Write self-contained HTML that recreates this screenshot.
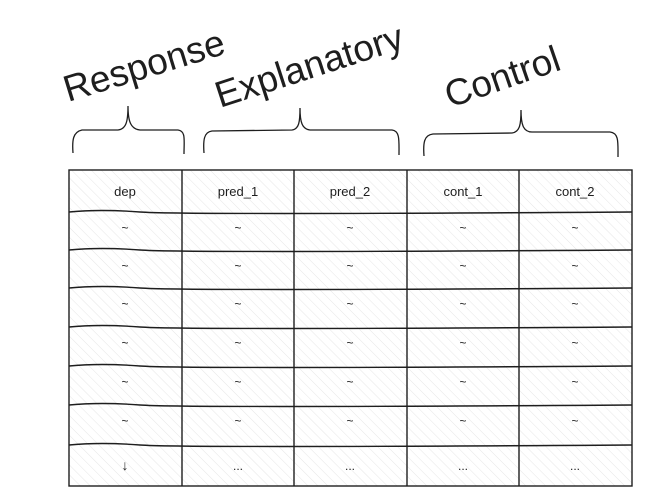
<!DOCTYPE html>
<html><head><style>
html,body{margin:0;padding:0;background:#fff;width:668px;height:487px;overflow:hidden}
text{font-family:"Liberation Sans",sans-serif;fill:#1e1e1e}
</style></head><body>
<svg width="668" height="487" viewBox="0 0 668 487" xmlns="http://www.w3.org/2000/svg">
<defs>
<pattern id="h" width="7" height="7" patternUnits="userSpaceOnUse" patternTransform="rotate(-45)">
<line x1="0" y1="0" x2="0" y2="7" stroke="#e0e0e0" stroke-width="0.8"/>
</pattern>
</defs>
<g transform="rotate(-17 68 102)"><text x="68" y="102" font-size="37">Response</text></g>
<g transform="rotate(-18 220 108)"><text x="220" y="108" font-size="37">Explanatory</text></g>
<g transform="rotate(-19 450 108)"><text x="450" y="108" font-size="37">Control</text></g>
<g fill="none" stroke="#1e1e1e" stroke-width="1.3">
<path d="M73 153 C72 140 73 132 82 130 L118 130 C126 129 128 122 128 106 C128 122 131 129 140 130 L178 130 C186 131 184 140 184 154"/>
<path d="M204 153 C203 140 204 132 212 131 L292 130 C299 129 300 122 300 108 C300 122 302 129 310 130 L392 130 C400 131 399 140 399 155"/>
<path d="M424 156 C423 143 424 135 433 134 L512 133 C520 132 521 124 521 110 C521 124 523 132 532 132 L610 132 C619 133 618 142 618 157"/>
</g>
<rect x="69" y="170" width="563" height="316" fill="url(#h)"/>
<g fill="none" stroke="#1e1e1e" stroke-width="1.4">
<rect x="69" y="170" width="563" height="316"/>
<line x1="182" y1="170" x2="182" y2="486"/>
<line x1="294" y1="170" x2="294" y2="486"/>
<line x1="407" y1="170" x2="407" y2="486"/>
<line x1="519" y1="170" x2="519" y2="486"/>
<path d="M69 212 Q100 209 140 212 T632 212"/>
<path d="M69 250 Q100 247 140 250 T632 250"/>
<path d="M69 288 Q100 285 140 288 T632 288"/>
<path d="M69 327 Q100 324 140 327 T632 327"/>
<path d="M69 366 Q100 363 140 366 T632 366"/>
<path d="M69 405 Q100 402 140 405 T632 405"/>
<path d="M69 445 Q100 442 140 445 T632 445"/>
</g>
<g font-size="13" text-anchor="middle">
<text x="125" y="196">dep</text><text x="238" y="196">pred_1</text><text x="350" y="196">pred_2</text><text x="463" y="196">cont_1</text><text x="575" y="196">cont_2</text>
</g>
<g font-size="12" text-anchor="middle">
<text x="125" y="232">~</text><text x="238" y="232">~</text><text x="350" y="232">~</text><text x="463" y="232">~</text><text x="575" y="232">~</text>
<text x="125" y="270">~</text><text x="238" y="270">~</text><text x="350" y="270">~</text><text x="463" y="270">~</text><text x="575" y="270">~</text>
<text x="125" y="308">~</text><text x="238" y="308">~</text><text x="350" y="308">~</text><text x="463" y="308">~</text><text x="575" y="308">~</text>
<text x="125" y="347">~</text><text x="238" y="347">~</text><text x="350" y="347">~</text><text x="463" y="347">~</text><text x="575" y="347">~</text>
<text x="125" y="386">~</text><text x="238" y="386">~</text><text x="350" y="386">~</text><text x="463" y="386">~</text><text x="575" y="386">~</text>
<text x="125" y="425">~</text><text x="238" y="425">~</text><text x="350" y="425">~</text><text x="463" y="425">~</text><text x="575" y="425">~</text>
<text x="125" y="470" font-size="14">↓</text><text x="238" y="470">...</text><text x="350" y="470">...</text><text x="463" y="470">...</text><text x="575" y="470">...</text>
</g>
</svg>
</body></html>
